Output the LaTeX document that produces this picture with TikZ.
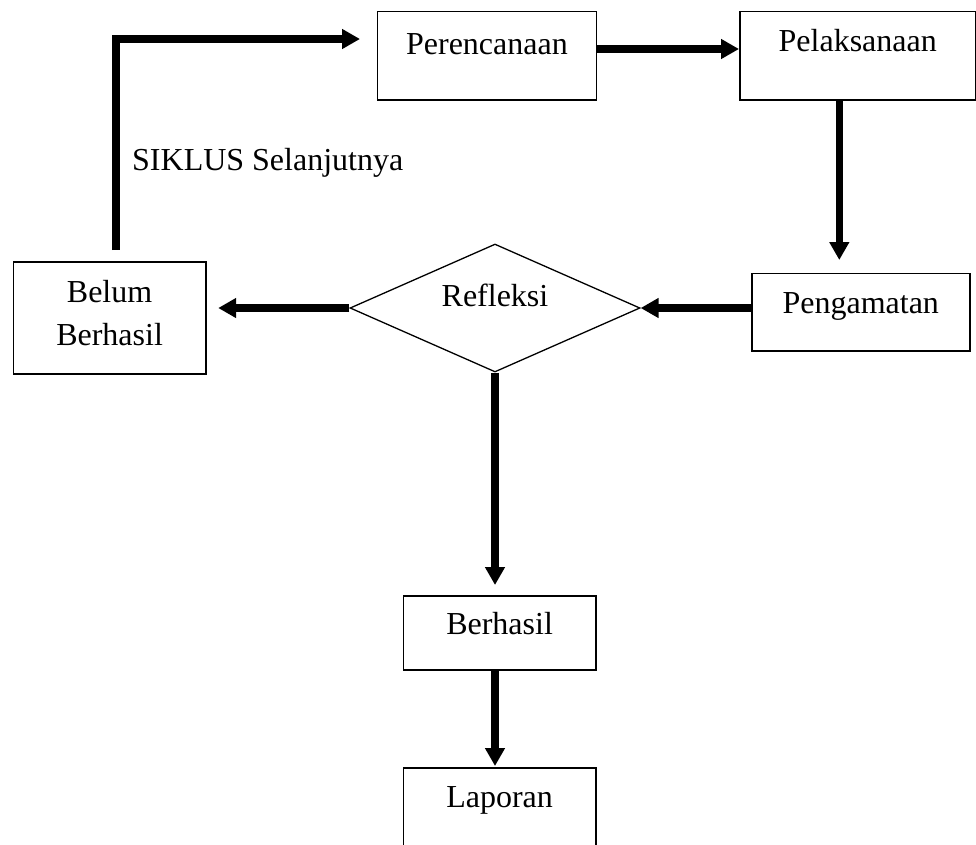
\documentclass[tikz,border=0pt]{standalone}
\usepackage{fontspec}
\setmainfont{Liberation Serif}
\usetikzlibrary{arrows.meta,shapes.geometric,calc}
\begin{document}
\begin{tikzpicture}[x=1pt,y=-1pt,
  txt/.style={font=\fontsize{32}{42.6}\selectfont},
  box/.style={draw,line width=1.5pt,inner sep=0pt,anchor=north west,txt},
  flow/.style={line width=7.3pt,-{Triangle[length=18pt,width=19pt]}}]
\useasboundingbox (0,0) rectangle (976,844);
% boxes
\node[box,minimum width=219pt,text height=42.6pt,text depth=45.7pt] (pere) at (376.7,10.7) {Perencanaan};
\node[box,minimum width=236pt,text height=40.3pt,text depth=48pt] (pela) at (739,10.7) {Pelaksanaan};
\node[box,minimum width=218pt,text height=40pt,text depth=37.3pt] (peng) at (751,272.7) {Pengamatan};
\node[box,minimum width=192.3pt,text height=40.7pt,text depth=71.6pt] (belum) at (12.7,261) {\begin{tabular}[t]{@{}c@{}}Belum\\Berhasil\end{tabular}};
\node[box,minimum width=192.3pt,text height=39pt,text depth=35pt] (berh) at (402.7,595) {Berhasil};
\node[box,minimum width=192.3pt,text height=39.4pt,text depth=75pt] (lap) at (402.7,767.3) {Laporan};
% decision
\node[draw,diamond,shape aspect=2.27,line width=1.3pt,inner sep=0pt,
      minimum width=290pt,minimum height=128pt,text height=22pt,text depth=26pt,txt] (refl) at (495,308) {Refleksi};
% label
\node[txt,anchor=base west,inner sep=0pt] (siklus) at (132,170.7) {SIKLUS Selanjutnya};
% connectors
\coordinate (loopstart) at (116,250);
\draw[flow,shorten >=16.7pt] (loopstart) |- ($(pere.north west)+(0,28.3)$);
\draw[flow] ($(pere.north east)+(0,38.3)$) -- ($(pela.north west)+(0,38.3)$);
\draw[flow,shorten >=12.7pt] ($(pela.south west)+(100.3,0)$) -- ($(peng.north west)+(88.3,0)$);
\draw[flow] (peng.west |- refl.east) -- (refl.east);
\draw[flow,shorten >=11.7pt] (refl.west) -- (belum.east |- refl.west);
\draw[flow,shorten >=10pt] (refl.south) -- (refl.south |- berh.north);
\draw[flow,shorten >=1.3pt] (refl.south |- berh.south) -- (refl.south |- lap.north);
\end{tikzpicture}
\end{document}
